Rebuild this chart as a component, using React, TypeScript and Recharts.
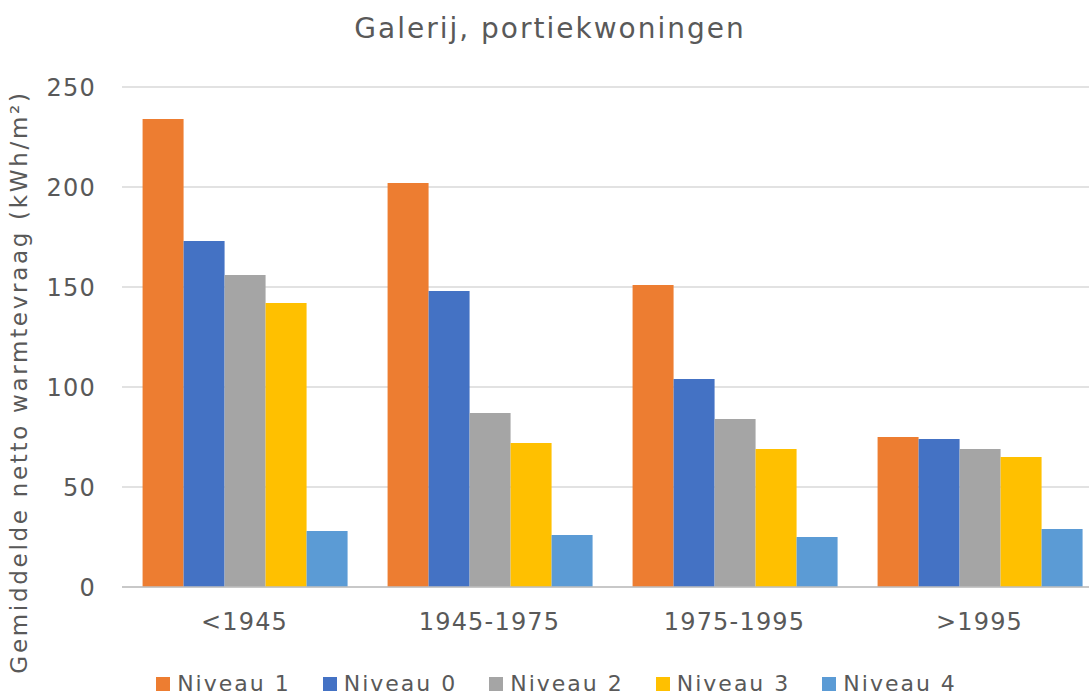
import React from "react";
import {
  BarChart,
  Bar,
  XAxis,
  YAxis,
  CartesianGrid,
  Legend,
  Label,
} from "recharts";

// bouwperiodes
const periods = ["<1945", "1945-1975", "1975-1995", ">1995"];

// gemiddelde netto warmtevraag per niveau (kWh/m²)
const niveau1 = [234, 202, 151, 75];
const niveau0 = [173, 148, 104, 74];
const niveau2 = [156, 87, 84, 69];
const niveau3 = [142, 72, 69, 65];
const niveau4 = [28, 26, 25, 29];

const yTicks = [0, 50, 100, 150, 200, 250];

const seriesList = [
  { key: "n1", name: "Niveau 1", color: "#ED7D31", values: niveau1 },
  { key: "n0", name: "Niveau 0", color: "#4472C4", values: niveau0 },
  { key: "n2", name: "Niveau 2", color: "#A5A5A5", values: niveau2 },
  { key: "n3", name: "Niveau 3", color: "#FFC000", values: niveau3 },
  { key: "n4", name: "Niveau 4", color: "#5B9BD5", values: niveau4 },
];

const chartData = periods.map((period, i) => {
  const row: Record<string, string | number> = { period };
  seriesList.forEach((s) => {
    row[s.key] = s.values[i];
  });
  return row;
});

const FONT = "'DejaVu Sans', Verdana, sans-serif";
const TEXT = "#595959";

// legenda onderaan, vierkantjes zoals in Excel
function CustomLegend() {
  return (
    <div
      style={{
        display: "flex",
        justifyContent: "center",
        gap: 32,
        fontFamily: FONT,
        fontSize: 22,
        letterSpacing: 2,
        color: TEXT,
        paddingLeft: 24,
      }}
    >
      {seriesList.map((s) => (
        <div key={s.key} style={{ display: "flex", alignItems: "center" }}>
          <span
            style={{
              width: 14,
              height: 14,
              backgroundColor: s.color,
              marginRight: 7,
              display: "inline-block",
            }}
          />
          <span>{s.name}</span>
        </div>
      ))}
    </div>
  );
}

export default function App() {
  return (
    <div
      style={{
        position: "absolute",
        left: 0,
        top: 0,
        width: 1089,
        height: 696,
        overflow: "hidden",
        background: "#FFFFFF",
      }}
    >
      <div
        style={{
          position: "absolute",
          top: 12,
          left: 0,
          width: 1100,
          textAlign: "center",
          fontFamily: FONT,
          fontSize: 28,
          letterSpacing: 2,
          color: TEXT,
        }}
      >
        Galerij, portiekwoningen
      </div>
      <BarChart
        width={1089}
        height={696}
        data={chartData}
        margin={{ top: 87, right: -13, left: 0, bottom: 24 }}
        barCategoryGap="8.4%"
        barGap={0}
      >
        <CartesianGrid vertical={false} stroke="#D9D9D9" strokeWidth={1.5} />
        <XAxis
          dataKey="period"
          height={60}
          axisLine={{ stroke: "#BFBFBF", strokeWidth: 1.5 }}
          tickLine={false}
          tick={{ fontFamily: FONT, fontSize: 24, fill: TEXT, letterSpacing: 1.2 }}
          tickMargin={20}
        />
        <YAxis
          width={122}
          domain={[0, 250]}
          ticks={yTicks}
          axisLine={false}
          tickLine={false}
          tick={{ fontFamily: FONT, fontSize: 24, fill: TEXT, letterSpacing: 1.2 }}
          tickMargin={20}
        >
          <Label
            value="Gemiddelde netto warmtevraag (kWh/m²)"
            angle={-90}
            position="insideLeft"
            dx={14}
            dy={45}
            style={{
              fontFamily: FONT,
              fontSize: 23,
              fill: TEXT,
              letterSpacing: 2.7,
              textAnchor: "middle",
            }}
          />
        </YAxis>
        <Legend
          verticalAlign="bottom"
          content={<CustomLegend />}
          wrapperStyle={{ bottom: 0, left: 0, width: 1089 }}
        />
        {seriesList.map((s) => (
          <Bar
            key={s.key}
            dataKey={s.key}
            name={s.name}
            fill={s.color}
            isAnimationActive={false}
          />
        ))}
      </BarChart>
    </div>
  );
}
